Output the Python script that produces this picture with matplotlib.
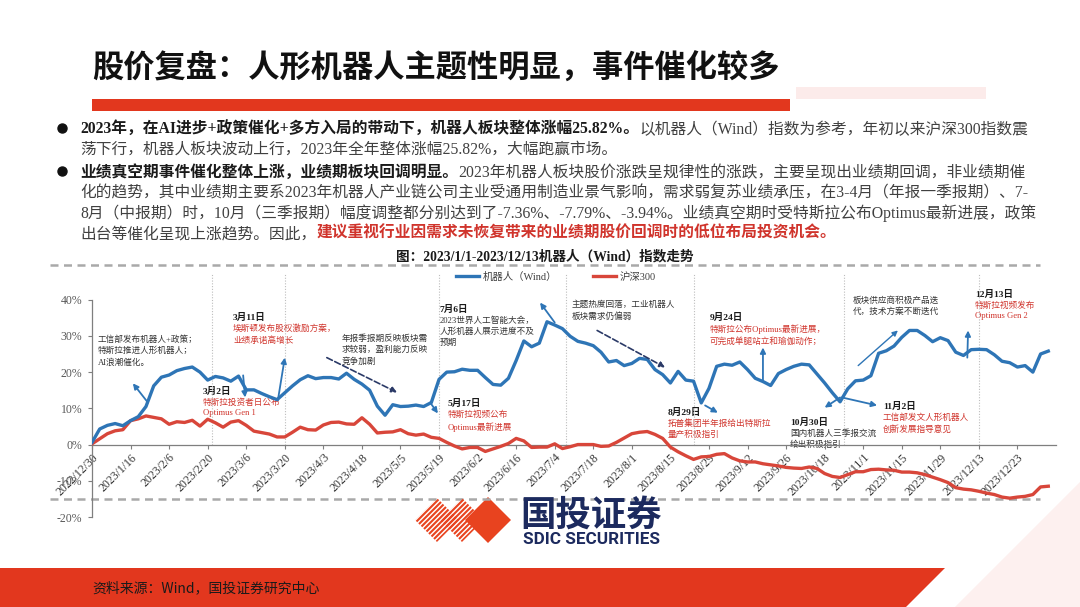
import numpy as np
import matplotlib
matplotlib.use("Agg")
import matplotlib.pyplot as plt
from matplotlib.patches import Polygon, Rectangle

W, H, DPI = 1080, 607, 100

# ---------------- data (every 2nd trading day) ----------------
STEP = 2
robot = [0.6, 4.3, 5.3, 5.8, 5.2, 6.6, 7.7, 10.5, 16.2, 18.6,
         19.2, 20.4, 21.0, 21.4, 20.0, 17.8, 18.8, 18.4, 17.5, 18.9,
         15.1, 15.1, 14.1, 13.2, 12.4, 14.3, 16.2, 17.9, 19.0, 18.2,
         18.5, 18.5, 18.1, 19.7, 18.0, 16.7, 15.0, 10.6, 8.1, 11.0,
         10.5, 10.6, 10.9, 10.5, 11.6, 18.0, 20.0, 20.1, 20.8, 20.5,
         20.5, 18.5, 16.6, 16.4, 18.3, 23.2, 28.6, 27.0, 28.0, 33.9,
         33.0, 32.0, 29.9, 28.5, 28.0, 27.3, 25.5, 22.8, 23.2, 21.8,
         22.4, 23.8, 23.5, 20.7, 19.3, 17.0, 20.2, 17.8, 17.5, 11.5,
         15.5, 21.6, 22.2, 21.9, 22.8, 20.7, 18.3, 17.4, 16.3, 19.6,
         20.7, 21.6, 22.2, 22.0, 19.5, 17.0, 14.3, 11.8, 15.4, 17.6,
         17.8, 19.0, 25.2, 25.9, 27.2, 29.6, 31.5, 31.5, 30.1, 28.4,
         29.5, 28.7, 25.5, 24.6, 26.2, 26.3, 26.2, 24.8, 23.0, 22.6,
         21.4, 21.8, 20.0, 25.0, 25.8]
hs300 = [0.2, 1.6, 3.0, 3.8, 4.1, 6.6, 7.1, 7.9, 7.5, 7.1,
         5.6, 6.3, 6.1, 6.7, 5.1, 7.0, 6.0, 4.8, 6.2, 6.6,
         5.3, 3.7, 3.3, 2.9, 2.1, 2.1, 3.4, 4.8, 4.1, 4.0,
         5.4, 6.1, 6.2, 5.7, 5.6, 7.4, 5.6, 3.2, 3.4, 3.5,
         4.1, 3.0, 2.6, 2.9, 2.0, 1.7, 0.6, -0.4, -1.2, -0.8,
         -0.8, -1.9, -1.2, -0.5, 0.3, 1.7, 1.0, -0.8, -0.7, -0.7,
         0.2, -1.1, -0.6, 0.0, 0.0, 0.0, -0.5, -0.4, 0.6, 1.8,
         3.0, 3.4, 3.6, 2.8, 1.7, -0.7, -2.0, -3.1, -4.1, -3.4,
         -3.3, -2.7, -2.5, -3.7, -4.5, -4.8, -4.8, -5.3, -5.6, -5.9,
         -6.3, -6.5, -6.6, -6.2, -6.6, -8.0, -8.8, -9.1, -8.3, -7.5,
         -7.5, -6.9, -6.8, -7.0, -7.1, -7.6, -7.6, -7.8, -8.3, -9.0,
         -9.7, -10.5, -11.9, -12.3, -12.5, -12.9, -13.4, -13.8, -14.5, -14.8,
         -14.5, -14.3, -13.8, -11.7, -11.5]
tick_days = list(range(0, 250, 10))
tick_labels = ['2022/12/30', '2023/1/16', '2023/2/6', '2023/2/20', '2023/3/6',
               '2023/3/20', '2023/4/3', '2023/4/18', '2023/5/5', '2023/5/19',
               '2023/6/2', '2023/6/16', '2023/7/4', '2023/7/18', '2023/8/1',
               '2023/8/15', '2023/8/29', '2023/9/12', '2023/9/26', '2023/10/18',
               '2023/11/1', '2023/11/15', '2023/11/29', '2023/12/13', '2023/12/23']
y_ticks = [-20, -10, 0, 10, 20, 30, 40]
y_labels = ['-20%', '-10%', '0%', '10%', '20%', '30%', '40%']
event_days = [31, 50, 90, 123, 156, 195, 230]
series_names = ['机器人（Wind）', '沪深300']

# ---------------- styles ----------------
BLUE = '#2E75B6'
RED = '#D8463A'
NAVY = '#2B3A67'
BRAND_RED = '#E2371E'
GRAY_TXT = '#404040'
ANN_RED = '#D0342C'
SERIF_CJK = ['Liberation Serif', 'Noto Sans CJK SC']
CJK = ['Noto Sans CJK SC', 'DejaVu Sans']
plt.rcParams['font.family'] = SERIF_CJK

fig = plt.figure(figsize=(W / DPI, H / DPI), dpi=DPI)
fig.patch.set_facecolor('white')

# decoration layer in pixel coordinates (y downward)
deco = fig.add_axes([0, 0, 1, 1], zorder=0)
deco.set_xlim(0, W)
deco.set_ylim(H, 0)
deco.axis('off')

# ---------------- header ----------------
deco.text(92, 69, '股价复盘：人形机器人主题性明显，事件催化较多', fontsize=22.5,
          fontweight='bold', family=CJK, color='#111111', va='center', ha='left')
deco.add_patch(Rectangle((92, 99), 698, 12, color=BRAND_RED, lw=0))
deco.add_patch(Rectangle((796, 87), 190, 12, color='#FCEBEA', lw=0))

renderer = fig.canvas.get_renderer()


def rich(x, y, segs, size):
    cx = x
    for txt, col, wt in segs:
        t = deco.text(cx, y, txt, fontsize=size, color=col, fontweight=wt,
                      va='baseline', ha='left', family=SERIF_CJK)
        bb = t.get_window_extent(renderer)
        cx = deco.transData.inverted().transform((bb.x1, bb.y0))[0]


BS = 11.3
deco.plot([62, 62], [128, 171], ls='none', marker='o', ms=6.5, color='#111111')
rich(80, 134, [('2023年，在AI进步+政策催化+多方入局的带动下，机器人板块整体涨幅25.82%。', '#1A1A1A', 'bold'),
               ('以机器人（Wind）指数为参考，年初以来沪深300指数震', GRAY_TXT, 'normal')], BS)
rich(80, 154, [('荡下行，机器人板块波动上行，2023年全年整体涨幅25.82%，大幅跑赢市场。', GRAY_TXT, 'normal')], BS)
rich(80, 177, [('业绩真空期事件催化整体上涨，业绩期板块回调明显。', '#1A1A1A', 'bold'),
               ('2023年机器人板块股价涨跌呈规律性的涨跌，主要呈现出业绩期回调，非业绩期催', GRAY_TXT, 'normal')], BS)
rich(80, 197, [('化的趋势，其中业绩期主要系2023年机器人产业链公司主业受通用制造业景气影响，需求弱复苏业绩承压，在3-4月（年报一季报期）、7-', GRAY_TXT, 'normal')], BS)
rich(80, 218, [('8月（中报期）时，10月（三季报期）幅度调整都分别达到了-7.36%、-7.79%、-3.94%。业绩真空期时受特斯拉公布Optimus最新进展，政策', GRAY_TXT, 'normal')], BS)
rich(80, 238, [('出台等催化呈现上涨趋势。因此，', GRAY_TXT, 'normal'),
               ('建议重视行业因需求未恢复带来的业绩期股价回调时的低位布局投资机会。', ANN_RED, 'bold')], BS)

# caption and dashed separators
deco.text(545, 257, '图：2023/1/1-2023/12/13机器人（Wind）指数走势', fontsize=9.8,
          fontweight='bold', color='#1A1A1A', ha='center', va='center', family=SERIF_CJK)
for yy in (265, 499):
    deco.plot([50, 1040], [yy, yy], color='#A9A9A9', lw=1.8, ls=(0, (3.2, 2.2)), solid_capstyle='butt')

# ---------------- chart ----------------
ax = fig.add_axes([92 / W, 1 - 517 / H, (1056 - 92) / W, (517 - 270.7) / H], zorder=2)
ax.patch.set_alpha(0)
x = np.arange(len(robot)) * STEP
ax.plot(x, robot, color=BLUE, lw=2.4, label=series_names[0], zorder=4, solid_joinstyle='round')
ax.plot(x, hs300, color=RED, lw=2.4, label=series_names[1], zorder=3, solid_joinstyle='round')
ax.vlines(event_days, 0, 47, colors='#BDBDBD', linestyles=(0, (1, 1.5)), lw=0.8, zorder=1)
ax.set_xlim(0, 250)
ax.set_ylim(-20, 48)
for s in ('top', 'right'):
    ax.spines[s].set_visible(False)
ax.spines['bottom'].set_position(('data', 0))
ax.spines['left'].set_bounds(-20, 40)
for s in ('bottom', 'left'):
    ax.spines[s].set_color('#7F7F7F')
    ax.spines[s].set_linewidth(0.9)
ax.set_yticks(y_ticks)
ax.set_yticklabels(y_labels, fontsize=8.5, color='#595959', family=SERIF_CJK)
ax.set_xticks(tick_days)
ax.set_xticklabels(tick_labels, rotation=45, ha='right', rotation_mode='anchor',
                   fontsize=8.5, color='#333333', family=SERIF_CJK)
ax.tick_params(axis='x', length=3, color='#7F7F7F', pad=2)
ax.tick_params(axis='y', length=3, color='#7F7F7F', pad=4)
leg = ax.legend(loc='center', bbox_to_anchor=(556 / W, 1 - 277 / H),
                bbox_transform=fig.transFigure, ncol=2, frameon=False,
                fontsize=7.5, handlelength=2.2, columnspacing=3.5, handletextpad=0.3)
for t in leg.get_texts():
    t.set_color('#404040')


def arrow(tail, head, color=BLUE, ls='-', lw=1.3):
    ax.annotate('', xy=head, xytext=tail,
                arrowprops=dict(arrowstyle='-|>', color=color, lw=lw, ls=ls,
                                mutation_scale=8, shrinkA=0, shrinkB=0), zorder=5)


arrow((14.5, 11.6), (10.6, 16.9))
arrow((48.2, 12.2), (50.0, 24.0))
arrow((39.2, 19.1), (39.7, 13.0))
arrow((60.9, 24.0), (79.1, 14.4), color=NAVY, ls='--', lw=1.2)
arrow((120.0, 33.7), (116.2, 39.2))
arrow((87.7, 11.6), (89.7, 8.6))
arrow((131.0, 31.5), (148.6, 21.3), color=NAVY, ls='--', lw=1.2)
arrow((174.0, 17.7), (174.0, 26.8))
arrow((159.0, 10.8), (162.3, 8.8))
arrow((194.0, 13.0), (190.0, 10.2))
arrow((194.5, 13.0), (203.6, 10.8))
arrow((198.7, 21.8), (209.0, 31.5), lw=1.0)
arrow((227.0, 24.0), (227.2, 31.5))

# annotation texts (pixel positions)
AS = 6.2


def note(x, y, date, body, color):
    yy = y
    if date:
        deco.text(x, yy, date, fontsize=AS + 0.6, fontweight='bold', color='#1A1A1A',
                  va='top', ha='left', family=SERIF_CJK, zorder=6)
        yy += 11
    deco.text(x, yy, body, fontsize=AS, color=color, va='top', ha='left',
              family=SERIF_CJK, linespacing=1.45, zorder=6)


note(98, 335, None, '工信部发布机器人+政策；\n特斯拉推进人形机器人；\nAI浪潮催化。', '#333333')
note(233, 313, '3月11日', '埃斯顿发布股权激励方案，\n业绩承诺高增长', ANN_RED)
note(203, 387, '3月2日', '特斯拉投资者日公布\nOptimus Gen 1', ANN_RED)
note(342, 334, None, '年报季报期反映板块需\n求较弱，盈利能力反映\n竞争加剧', '#333333')
note(440, 305, '7月6日', '2023世界人工智能大会，\n人形机器人展示进度不及\n预期', '#333333')
note(448, 399, '5月17日', '特斯拉视频公布\nOptimus最新进展', ANN_RED)
note(572, 300, None, '主题热度回落，工业机器人\n板块需求仍偏弱', '#333333')
note(710, 313, '9月24日', '特斯拉公布Optimus最新进展，\n可完成单腿站立和瑜伽动作；', ANN_RED)
note(668, 408, '8月29日', '拓普集团半年报给出特斯拉\n量产积极指引', ANN_RED)
note(790, 418, '10月30日', '国内机器人三季报交流\n给出积极指引', '#333333')
note(883, 402, '11月2日', '工信部发文人形机器人\n创新发展指导意见', ANN_RED)
note(853, 296, None, '板块供应商积极产品迭\n代，技术方案不断迭代', '#333333')
note(975, 290, '12月13日', '特斯拉视频发布\nOptimus Gen 2', ANN_RED)

# ---------------- logo ----------------
LOGO_RED = '#E8431F'


def striped_diamond(cx, cy, r):
    clip = Polygon([(cx, cy - r), (cx + r, cy), (cx, cy + r), (cx - r, cy)], closed=True,
                   facecolor='none', edgecolor='none', transform=deco.transData)
    deco.add_patch(clip)
    for k in np.arange(-2 * r, 2 * r, 5.0):
        ln, = deco.plot([cx + k - 2 * r, cx + k + 2 * r], [cy + 2 * r, cy - 2 * r],
                        color=LOGO_RED, lw=1.5, solid_capstyle='butt')
        ln.set_clip_path(clip)


striped_diamond(437, 520, 22)
striped_diamond(462, 520, 22)
deco.add_patch(Polygon([(488, 497), (511, 520), (488, 543), (465, 520)], closed=True,
                       color=LOGO_RED, lw=0))
deco.text(520, 515, '国投证券', fontsize=25.5, fontweight='bold', color='#1C2A5E',
          family=CJK, va='center', ha='left')
deco.text(523, 540, 'SDIC SECURITIES', fontsize=12.3, fontweight='bold', color='#1C2A5E',
          family=['Roboto', 'DejaVu Sans'], va='center', ha='left')

# ---------------- footer ----------------
deco.add_patch(Polygon([(955, 607), (1080, 482), (1080, 607)], closed=True,
                       color='#FDF0EF', lw=0))
deco.add_patch(Polygon([(0, 568), (945, 568), (906, 607), (0, 607)], closed=True,
                       color=BRAND_RED, lw=0))
deco.text(92, 588, '资料来源：Wind，国投证券研究中心', fontsize=10, color='#1A1A1A',
          family=CJK, va='center', ha='left')

fig.savefig('out.png', dpi=DPI)
